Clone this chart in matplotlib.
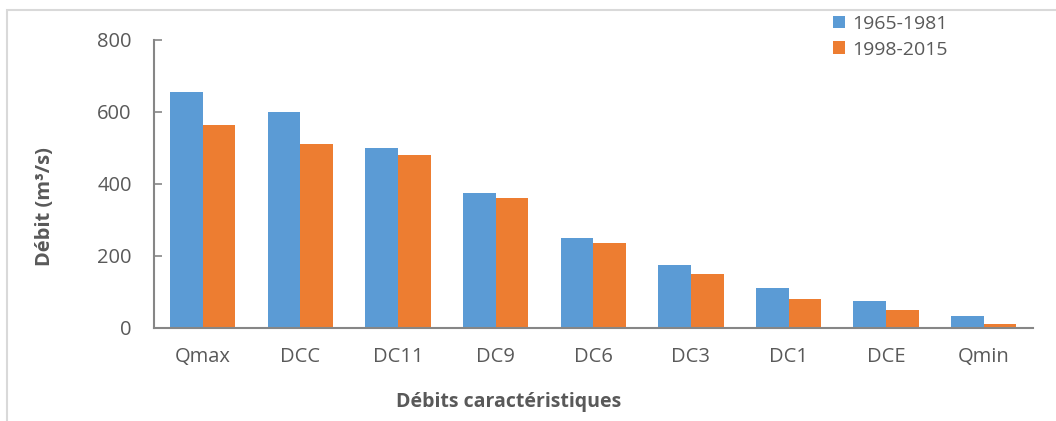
#!/usr/bin/env python3
"""Débits caractéristiques: comparaison 1965-1981 vs 1998-2015."""
import matplotlib
matplotlib.use('Agg')
import matplotlib.pyplot as plt
import matplotlib.patches as mpatches
import numpy as np

plt.rcParams.update({
    'font.family': ['Open Sans', 'DejaVu Sans'],
    'font.size': 14,
})

categories = ['Qmax', 'DCC', 'DC11', 'DC9', 'DC6', 'DC3', 'DC1', 'DCE', 'Qmin']
series_names = ['1965-1981', '1998-2015']
vals_1965 = [655, 600, 500, 375, 250, 175, 110, 75, 34]
vals_1998 = [565, 510, 480, 360, 235, 150, 80, 50, 12]
yticks = [0, 200, 400, 600, 800]

COLORS = ['#5B9BD5', '#ED7D31']
TEXT = '#595959'
AXIS = '#868686'

W, H = 1056, 421
fig = plt.figure(figsize=(W / 100, H / 100), dpi=100)
ax = fig.add_axes([0.1458, 0.221, 0.832, 0.684])

x = np.arange(len(categories))
width = 0.335
ax.bar(x - width / 2, vals_1965, width, color=COLORS[0], label=series_names[0])
ax.bar(x + width / 2, vals_1998, width, color=COLORS[1], label=series_names[1])

ax.set_xlim(-0.5, len(categories) - 0.5)
ax.set_ylim(0, 800)
ax.set_yticks(yticks)
ax.set_xticks(x)
ax.set_xticklabels(categories)

for side in ['top', 'right']:
    ax.spines[side].set_visible(False)
for side in ['left', 'bottom']:
    ax.spines[side].set_color(AXIS)
    ax.spines[side].set_linewidth(1.5)

ax.tick_params(axis='y', direction='in', length=6, width=1.2, color=AXIS,
               labelcolor=TEXT, labelsize=14.5, pad=16)
ax.tick_params(axis='x', length=0, labelcolor=TEXT, labelsize=14.5, pad=14)

# axis titles are placed like in the spreadsheet chart (not centred on the axes)
fig.text(45 / W, 1 - 207 / H, 'Débit (m³/s)', rotation=90, ha='center', va='center',
         fontsize=14.5, fontweight='bold', color=TEXT)
fig.text(509 / W, 1 - 402 / H, 'Débits caractéristiques', ha='center', va='center',
         fontsize=14, fontweight='bold', color=TEXT)

leg = fig.legend(loc='upper left', bbox_to_anchor=(0.789, 0.965), frameon=False,
                 fontsize=14, handlelength=0.6, handleheight=0.6, handletextpad=0.4,
                 labelspacing=0.4, borderaxespad=0, borderpad=0)
for t in leg.get_texts():
    t.set_color(TEXT)

# light frame around the chart area
fig.patches.append(mpatches.Rectangle((7 / W, -0.05), 1.2, 1 - 10 / H + 0.05,
                                      transform=fig.transFigure, fill=False,
                                      edgecolor='#D9D9D9', linewidth=1.5))

fig.savefig('out.png', dpi=100)
